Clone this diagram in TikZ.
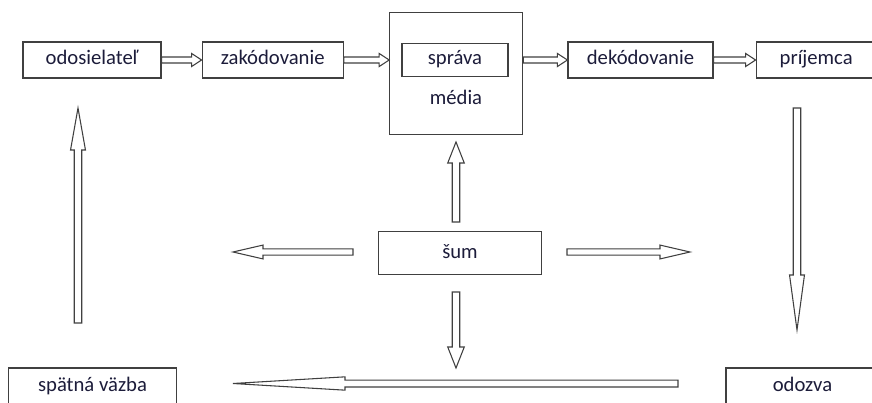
\documentclass[tikz,border=0pt]{standalone}
\usepackage{fontspec}
\setmainfont{Carlito}
\usetikzlibrary{calc, positioning}
\definecolor{inkText}{RGB}{28,28,58}
\definecolor{inkLine}{RGB}{64,64,64}
\tikzstyle{txt} = [text=inkText, font=\fontsize{15.5}{18}\selectfont, text height=10.5pt, text depth=3pt]
\tikzstyle{box} = [txt, draw=inkLine, line width=0.9pt, rectangle, inner sep=0pt]
\tikzstyle{arrowline} = [draw=inkLine, line width=0.8pt, fill=white, line join=miter]
% hollow block arrow: shaft half width, head half width, head length, from, to
\newcommand{\hollowarrow}[5]{%
  \coordinate (hb) at ($(#5)!#3!(#4)$);
  \draw[arrowline] ($(#4)!#1!90:(#5)$) -- ($(hb)!#1!90:(#5)$) -- ($(hb)!#2!90:(#5)$)
    -- (#5) -- ($(hb)!#2!-90:(#5)$) -- ($(hb)!#1!-90:(#5)$) -- ($(#4)!#1!-90:(#5)$) -- cycle;
}

\begin{document}
\begin{tikzpicture}[x=0.75pt, y=-0.75pt]
  \fill[white] (0,0) rectangle (872,403);
  \useasboundingbox (0,0) rectangle (872,403);
  \clip (0,0) rectangle (872,403);

  % top row
  \node[box, minimum width=103.5pt, minimum height=27pt] (send) at (92,60) {odosielateľ};
  \node[box, minimum width=105.75pt, minimum height=27pt, right=30pt of send] (encode) {zakódovanie};
  \node[box, minimum width=99.75pt, minimum height=91.5pt] (media) at (456.3,73.8) {};
  \node[box, minimum width=79.5pt, minimum height=24.75pt] (msg) at (455,60) {správa};
  \node[txt] (mediaText) at (456,100) {média};
  \node[box, minimum width=108.75pt, minimum height=27pt] (decode) at (640.5,60) {dekódovanie};
  \node[box, minimum width=90pt, minimum height=27pt, right=31.5pt of decode] (receiver) {príjemca};

  % middle and bottom
  \node[box, minimum width=122.25pt, minimum height=32.25pt] (noise) at (460,253) {šum};
  \node[box, minimum width=126pt, minimum height=27pt] (feedback) at (92.5,386) {spätná väzba};
  \node[box, minimum width=114.75pt, minimum height=27pt] (response) at (802.5,386) {odozva};

  \coordinate (mediaIn) at (media.west |- encode.east);
  \coordinate (mediaOut) at (media.east |- decode.west);
  \coordinate (fbTail) at (78,323);
  \coordinate (fbTip) at (78,108);
  \coordinate (rcvTail) at (797,108);
  \coordinate (rcvTip) at (797,330);
  \coordinate (upTail) at (456,222);
  \coordinate (upTip) at (456,142);
  \coordinate (leftTail) at (353,252);
  \coordinate (leftTip) at (233,252);
  \coordinate (rightTail) at (567,252);
  \coordinate (rightTip) at (690,252);
  \coordinate (downTail) at (456,292);
  \coordinate (downTip) at (456,368);
  \coordinate (backTail) at (678,383.5);
  \coordinate (backTip) at (233,383.5);

  % arrows
  \hollowarrow{2.25pt}{4.9pt}{7.5pt}{send.east}{encode.west}
  \hollowarrow{2.25pt}{4.9pt}{7.5pt}{encode.east}{mediaIn}
  \hollowarrow{2.25pt}{4.9pt}{7.5pt}{mediaOut}{decode.west}
  \hollowarrow{2.25pt}{4.9pt}{7.5pt}{decode.east}{receiver.west}
  \hollowarrow{2.8pt}{5.6pt}{31.5pt}{fbTail}{fbTip}
  \hollowarrow{2.8pt}{5.6pt}{41.25pt}{rcvTail}{rcvTip}
  \hollowarrow{2.8pt}{6.2pt}{15.75pt}{upTail}{upTip}
  \hollowarrow{2.4pt}{5.2pt}{22.5pt}{leftTail}{leftTip}
  \hollowarrow{2.4pt}{5.2pt}{22.5pt}{rightTail}{rightTip}
  \hollowarrow{2.8pt}{6.2pt}{15.75pt}{downTail}{downTip}
  \hollowarrow{2.6pt}{5pt}{84pt}{backTail}{backTip}
\end{tikzpicture}
\end{document}
